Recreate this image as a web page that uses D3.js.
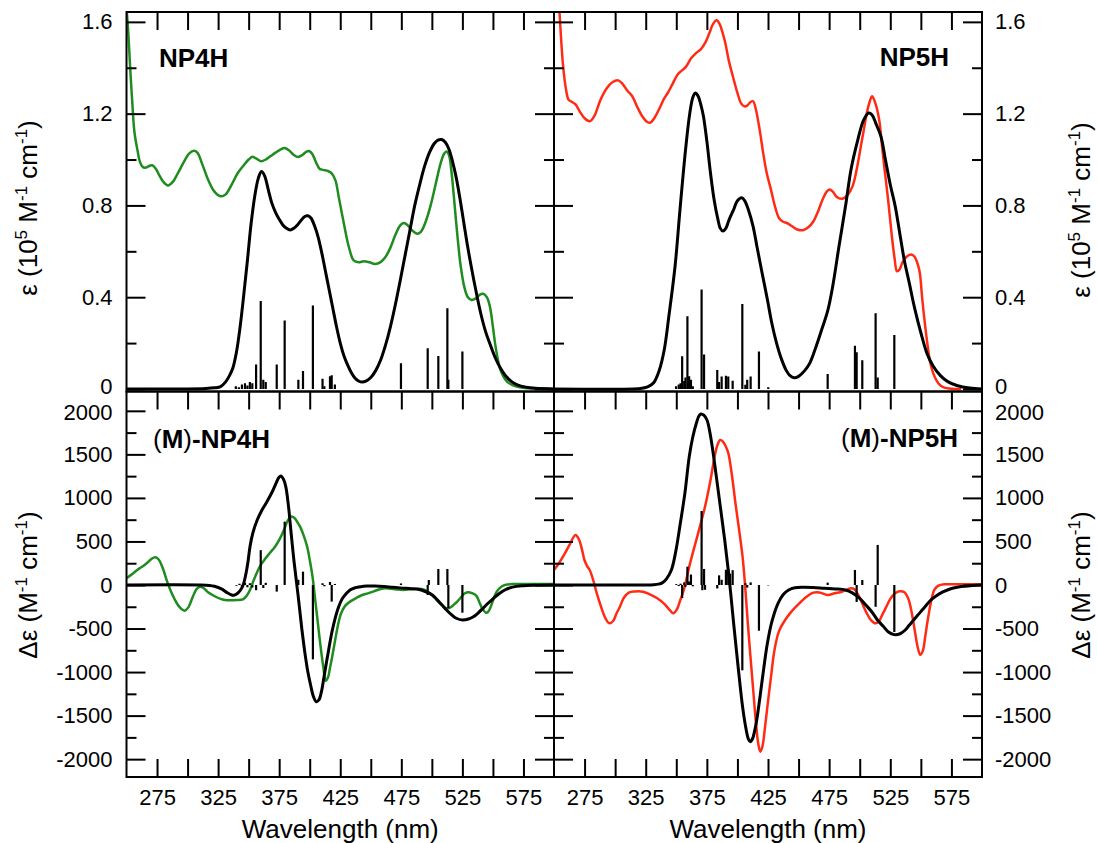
<!DOCTYPE html>
<html>
<head>
<meta charset="utf-8">
<script src="https://cdn.jsdelivr.net/npm/d3@7"></script>
<style>
  body { margin: 0; background: #fff; }
  svg { display: block; }
  text { font-family: "Liberation Sans", Arial, Helvetica, sans-serif; fill: #000; }
</style>
</head>
<body>
<svg id="chart" width="1097" height="843"></svg>
<script>
// ---------- data: wavelength (nm) vs. intensity ----------
// UV-vis absorption, epsilon in 1e5 M^-1 cm^-1
const np4hAbsExp = [
  [250, 1.66], [251.5, 1.55], [253, 1.40], [254.6, 1.26], [256.5, 1.12], [259, 1.04], [261, 0.99],
  [263.4, 0.967], [266, 0.965], [268.5, 0.972], [271, 0.975], [274, 0.96], [277, 0.93], [280.5, 0.90],
  [284, 0.887], [287.5, 0.90], [292, 0.94], [297, 0.99], [301, 1.025], [305, 1.038], [308, 1.03],
  [312, 0.98], [317, 0.91], [322, 0.86], [327, 0.84], [331, 0.847], [336, 0.89], [341, 0.94],
  [346, 0.975], [350, 1.0], [353, 1.012], [356, 1.005], [360, 0.993], [364, 1.0], [368, 1.015],
  [372, 1.03], [376, 1.043], [379.5, 1.05], [383, 1.04], [387, 1.02], [390.5, 1.011], [394, 1.02],
  [397, 1.033], [399.5, 1.037], [402, 1.025], [405, 0.99], [408, 0.96], [411, 0.955], [415, 0.95],
  [418, 0.94], [421, 0.91], [424, 0.83], [428, 0.72], [432, 0.62], [436, 0.56], [440, 0.552],
  [444.5, 0.557], [449, 0.552], [453.5, 0.545], [458, 0.553], [462, 0.575], [466, 0.615], [470, 0.67],
  [474, 0.712], [477, 0.723], [480, 0.715], [484, 0.69], [488, 0.677], [491, 0.685], [495, 0.73],
  [499, 0.80], [503, 0.89], [507, 0.98], [510, 1.025], [512, 1.035], [514, 1.02], [516, 0.95],
  [518, 0.84], [520.7, 0.68], [523.5, 0.54], [526.6, 0.444], [529.5, 0.40], [532.6, 0.388],
  [536, 0.395], [539, 0.41], [542, 0.415], [545, 0.40], [547.5, 0.36], [550, 0.27], [552, 0.19],
  [554, 0.13], [556, 0.085], [558.5, 0.055], [561.5, 0.032], [566, 0.017], [572, 0.007],
  [580, 0.003], [590, 0.001], [600, 0]
];
const np4hAbsCalc = [
  [250, 0], [300, 0], [315, 0.002], [322, 0.005], [327, 0.01], [331, 0.03], [334, 0.055], [337, 0.09],
  [340, 0.16], [343, 0.27], [346, 0.41], [349, 0.56], [352, 0.72], [355, 0.84], [358, 0.92],
  [360.5, 0.948], [363, 0.93], [366, 0.87], [369, 0.81], [372, 0.77], [375, 0.74], [378, 0.715],
  [381, 0.70], [384, 0.693], [387, 0.70], [390, 0.715], [393, 0.735], [396, 0.752], [398.5, 0.755],
  [401, 0.745], [404, 0.71], [407, 0.66], [410, 0.59], [413, 0.51], [416, 0.43], [419, 0.35],
  [422, 0.27], [425, 0.2], [428, 0.145], [431, 0.105], [434, 0.072], [437, 0.048], [440, 0.035],
  [443, 0.03], [446, 0.034], [450, 0.05], [454, 0.08], [458, 0.125], [462, 0.19], [466, 0.27],
  [470, 0.365], [474, 0.47], [478, 0.58], [482, 0.69], [486, 0.8], [490, 0.89], [494, 0.97],
  [498, 1.03], [502, 1.07], [505, 1.085], [508, 1.087], [511, 1.075], [514, 1.045], [517, 0.99],
  [520, 0.92], [523, 0.83], [526, 0.73], [529, 0.63], [532, 0.54], [536, 0.43], [540, 0.33],
  [544, 0.25], [548, 0.19], [552, 0.135], [556, 0.092], [560, 0.06], [565, 0.033], [570, 0.018],
  [577, 0.008], [585, 0.003], [600, 0]
];
const np4hAbsSticks = [
  [339.5, 0.012], [342, 0.008], [344.5, 0.02], [347, 0.025], [349, 0.015], [351, 0.03], [353, 0.025],
  [356.1, 0.107], [359.9, 0.383], [362, 0.04], [364, 0.03], [373, 0.107], [379.5, 0.298],
  [390.7, 0.04], [394.5, 0.078], [402.6, 0.364], [410.5, 0.045], [412, 0.012], [416.6, 0.055],
  [418, 0.06], [420.6, 0.02], [474.7, 0.112], [496.6, 0.177], [505.3, 0.144], [512.7, 0.352],
  [513.5, 0.04], [525, 0.163]
];

const np5hAbsExp = [
  [252, 1.85], [254.5, 1.64], [257.4, 1.41], [260, 1.30], [262, 1.26], [265, 1.25], [267.6, 1.24],
  [271, 1.21], [275, 1.18], [279.2, 1.167], [283, 1.19], [288, 1.26], [293, 1.31], [298, 1.338],
  [302.5, 1.345], [306, 1.33], [310, 1.30], [314, 1.276], [318, 1.23], [322, 1.19], [326, 1.165],
  [328.6, 1.16], [332, 1.18], [336, 1.22], [340, 1.265], [343, 1.29], [347, 1.33], [351, 1.37],
  [355, 1.39], [358, 1.405], [362, 1.44], [366.4, 1.465], [370, 1.48], [373.6, 1.508], [377, 1.55],
  [380, 1.59], [383, 1.607], [385.5, 1.59], [388, 1.55], [390, 1.51], [393, 1.43], [396.9, 1.35],
  [400, 1.29], [403, 1.245], [405.6, 1.232], [408, 1.235], [410.5, 1.25], [412.8, 1.254], [415, 1.22],
  [418.6, 1.116], [421, 1.03], [424, 0.94], [427.4, 0.869], [431, 0.79], [434, 0.745], [437, 0.73],
  [441, 0.722], [444.8, 0.709], [449, 0.695], [453.5, 0.692], [458, 0.705], [462.2, 0.731],
  [466, 0.775], [470, 0.83], [473, 0.86], [475.3, 0.869], [478, 0.86], [481, 0.838], [485.5, 0.829],
  [490, 0.845], [494.2, 0.884], [498, 0.97], [501, 1.06], [502.9, 1.116], [505, 1.18], [507.5, 1.24],
  [510.1, 1.276], [512.5, 1.25], [515.9, 1.174], [518, 1.07], [520.5, 0.95], [523.2, 0.826],
  [526, 0.68], [528.5, 0.57], [530.5, 0.513], [532.5, 0.52], [534.8, 0.55], [538, 0.575],
  [542.1, 0.586], [545, 0.575], [547.9, 0.535], [549.3, 0.50], [551, 0.40], [553.4, 0.28],
  [555.5, 0.19], [557.5, 0.12], [560, 0.07], [563, 0.035], [566, 0.015], [570, 0.005], [578, 0], [583, 0]
];
const np5hAbsCalc = [
  [250, 0], [315, 0], [322, 0.003], [327, 0.01], [331.5, 0.027], [336, 0.08], [340.2, 0.172],
  [344, 0.32], [349, 0.535], [353, 0.78], [357.6, 1.044], [361, 1.2], [363.5, 1.27], [365.5, 1.29],
  [368, 1.275], [370, 1.24], [372.2, 1.189], [375, 1.08], [378, 0.94], [380.9, 0.826], [384, 0.74],
  [386, 0.70], [388.1, 0.688], [390.5, 0.70], [393, 0.735], [396.9, 0.782], [400, 0.82], [403.6, 0.833],
  [406, 0.82], [409, 0.78], [412.8, 0.709], [416, 0.62], [420, 0.51], [424.5, 0.39], [428, 0.29],
  [432, 0.2], [436.1, 0.129], [440, 0.08], [443, 0.058], [446.3, 0.049], [450, 0.055], [455, 0.08],
  [459.3, 0.114], [464, 0.18], [469, 0.26], [473.8, 0.34], [478, 0.45], [483, 0.62], [488.4, 0.797],
  [493, 0.96], [498.5, 1.087], [503, 1.17], [507.3, 1.203], [510, 1.195], [513, 1.16], [517.4, 1.10],
  [521, 1.0], [525, 0.89], [529, 0.797], [533, 0.67], [536.5, 0.56], [540.6, 0.46], [545, 0.35],
  [550, 0.245], [555, 0.155], [560, 0.1], [566, 0.058], [572, 0.032], [580, 0.014], [590, 0.004], [600, 0]
];
const np5hAbsSticks = [
  [349.8, 0.012], [352, 0.02], [353.5, 0.025], [354.8, 0.143], [356.5, 0.035], [357.5, 0.05],
  [359.1, 0.317], [360.5, 0.055], [362, 0.04], [363.5, 0.012], [370.7, 0.434], [372.7, 0.15],
  [383.5, 0.083], [385, 0.03], [387.1, 0.054], [390.6, 0.058], [392.5, 0.054], [396.1, 0.036],
  [404, 0.37], [406.5, 0.018], [408, 0.04], [410.8, 0.054], [417.6, 0.163], [425.2, 0.008],
  [473.8, 0.065], [496.1, 0.188], [497.5, 0.16], [502.1, 0.125], [513, 0.33], [514.7, 0.05], [528.3, 0.235]
];

// Circular dichroism, delta-epsilon in M^-1 cm^-1
const np4hCdExp = [
  [250, 77], [255, 130], [260, 185], [263.4, 215], [267, 255], [270.5, 300], [273.6, 318], [276.5, 290],
  [279.5, 200], [283.8, 19], [287.5, -110], [291.2, -210], [294.5, -270], [297.6, -295], [300.5, -260],
  [304.3, -134], [307.5, -45], [310.2, -19], [313.5, -40], [316.5, -80], [319, -103], [323, -135],
  [327, -160], [330.6, -172], [335, -175], [340, -172], [345.3, -165], [348.5, -120], [351.1, -57],
  [354, 50], [357, 150], [359.9, 230], [363.5, 300], [367.5, 370], [371.6, 440], [375.5, 530],
  [378.9, 632], [382, 740], [384.8, 785], [387.5, 770], [390, 720], [392.1, 670], [395, 570],
  [397.9, 440], [400, 290], [402.3, 96], [404.5, -170], [406.7, -440], [409, -720], [411.1, -938],
  [413.1, -1100], [415, -1060], [416.5, -960], [418.4, -823], [421, -620], [423, -470], [425.7, -325],
  [429, -240], [433, -191], [438, -150], [443, -115], [447.6, -96], [453, -70], [458, -45],
  [462.3, -38], [468, -45], [472, -52], [476.9, -57], [482, -50], [486, -45], [491.5, -46], [496, -70],
  [500.3, -115], [504, -170], [508, -230], [511, -262], [513.5, -268], [516, -250], [518.5, -220],
  [520.8, -191], [524, -140], [527, -95], [530, -82], [533, -95], [536.5, -125], [539, -200],
  [541.5, -275], [544.5, -320], [546.5, -300], [548.5, -240], [550.5, -160], [553, -80], [556, -30],
  [558.9, -5], [562, 5], [566, 10], [570.6, 11], [580, 12], [590, 12], [600, 11]
];
const np4hCdCalc = [
  [250, 0], [310, 0], [318, -5], [322, -15], [327.7, -45], [332, -85], [335, -108], [338, -118],
  [341, -95], [343.5, -55], [345.5, 0], [347.5, 110], [349.5, 270], [351.1, 440], [353.5, 600],
  [357, 746], [360.5, 850], [364.2, 938], [368.7, 1053], [372.5, 1170], [375, 1240], [376.5, 1252],
  [378.5, 1215], [380.4, 1129], [382.5, 920], [384.8, 593], [387, 290], [390.6, -134], [393.5, -500],
  [396.5, -823], [398.5, -1000], [400.9, -1160], [403, -1280], [405.3, -1340], [407.5, -1320],
  [409.6, -1225], [412, -1030], [415.5, -746], [418.5, -520], [422.8, -287], [427, -150], [433, -57],
  [437.5, -30], [441.8, -19], [447, -13], [453.5, -11], [461, -17], [468.1, -27], [476, -36],
  [483, -42], [488.6, -50], [494, -72], [500.3, -115], [504, -165], [508, -225], [512, -287],
  [516, -340], [520, -382], [525.1, -402], [530, -390], [534, -365], [538, -320], [542, -265],
  [546, -210], [550, -160], [555, -100], [560.5, -52], [566, -25], [573.6, -10], [585, -3], [600, 0]
];
const np4hCdSticks = [
  [340, -10], [342.5, 15], [344.5, -20], [347, 25], [349, -25], [351, 20], [353, -30], [356.1, -60],
  [359.9, 400], [362, -35], [364, 25], [373, -76], [379.5, 727], [390.7, 60], [394.5, 153],
  [402.6, -854], [410.5, 20], [412, -15], [416.6, 35], [418, -191], [420.6, 12], [474.7, 18],
  [496.6, -115], [497.5, 57], [505.3, 184], [512.7, 184], [513.5, -268], [525, -318]
];

const np5hCdExp = [
  [250, 172], [254, 250], [258.9, 364], [263, 470], [267.6, 574], [270.5, 520], [273, 400],
  [274.9, 287], [277, 220], [279.2, 172], [282, 60], [285, -96], [288.5, -250], [292, -380],
  [295.2, -440], [298.5, -410], [301, -330], [303.9, -249], [307, -150], [311.2, -88], [316, -75],
  [322.8, -77], [328, -105], [334.4, -153], [340, -215], [344.5, -285], [347.5, -325], [350.5, -280],
  [353.3, -172], [356.5, -40], [360.6, 211], [364.5, 420], [369.3, 670], [373.5, 900], [378, 1206],
  [381, 1450], [383.5, 1600], [385.9, 1665], [388, 1650], [390.5, 1590], [392.6, 1512], [395.5, 1260],
  [398.4, 938], [401.5, 620], [404.2, 325], [406.5, -50], [408.5, -440], [410.7, -830], [412.9, -1206],
  [415, -1560], [417, -1820], [418.7, -1914], [420.5, -1850], [422.5, -1640], [424.5, -1397],
  [427.5, -1050], [430.3, -746], [434, -530], [439, -402], [444.5, -300], [450.6, -211], [456, -140],
  [462.2, -88], [467, -85], [473.8, -115], [479.5, -95], [485.4, -77], [490, -50], [493, -38],
  [495.6, -50], [499, -120], [502, -210], [505.8, -325], [509, -400], [513.1, -440], [516, -410],
  [518.5, -340], [521.8, -249], [525, -160], [529, -96], [532.5, -72], [536.3, -80], [539.5, -150],
  [542.1, -287], [545, -520], [547.5, -720], [549.4, -800], [551.5, -760], [553.5, -600],
  [555.2, -440], [557.5, -250], [559.5, -120], [561, -57], [564, -10], [569.7, 8], [580, 8], [590, 8], [600, 8]
];
const np5hCdCalc = [
  [250, 0], [322, 0], [331.6, 3], [335.5, 10], [338.8, 27], [342, 70], [346, 172], [349.5, 380],
  [353.3, 708], [357, 1050], [360.6, 1474], [363.5, 1700], [366.4, 1857], [368.5, 1940], [370.2, 1964],
  [372.5, 1950], [375.1, 1895], [378, 1710], [382.4, 1282], [386, 900], [389.6, 517], [393.5, 40],
  [396.9, -440], [400.5, -930], [404.2, -1397], [407, -1650], [409, -1770], [410.5, -1800],
  [412.5, -1760], [414, -1680], [415.8, -1550], [418.5, -1280], [421.5, -960], [424.5, -670],
  [428, -430], [433.2, -211], [437.5, -110], [441.9, -57], [447, -32], [453.5, -27], [462, -30],
  [471, -38], [480, -45], [488.4, -57], [494, -90], [500, -153], [505, -230], [510, -310],
  [514.5, -402], [519, -470], [523.5, -540], [528.2, -570], [533, -560], [537, -520], [540.6, -460],
  [546, -370], [552.2, -270], [558, -175], [563, -120], [568, -80], [575, -40], [583, -17],
  [592, -6], [600, 0]
];
const np5hCdSticks = [
  [350, 10], [352, -12], [353.5, 15], [354.8, -150], [356.5, 30], [357.5, -20], [359.1, 210],
  [360.5, 40], [362, 120], [363.5, -15], [370.7, 850], [371.3, -60], [372.7, 184], [373.5, -55],
  [383.5, -40], [385, 111], [387.1, 60], [390.6, 175], [392.5, 180], [394, 130], [396.1, 170],
  [404, -980], [406.5, 20], [408, -30], [410.8, 30], [417.6, -525], [425.2, -5], [473.8, 27],
  [496.1, 172], [497.5, -195], [502.1, 57], [513, -250], [514.7, 460], [528.3, -540]
];

// ---------- axis ticks ----------
const waveTicks = [275, 300, 325, 350, 375, 400, 425, 450, 475, 500, 525, 550, 575];
const waveLabels = [275, 325, 375, 425, 475, 525, 575];
const absMajor = [0, 0.4, 0.8, 1.2, 1.6];
const absMinor = [0.2, 0.6, 1.0, 1.4];
const cdMajor = [-2000, -1500, -1000, -500, 0, 500, 1000, 1500, 2000];
const cdMinor = [-1750, -1250, -750, -250, 250, 750, 1250, 1750];

// ---------- layout ----------
const X0 = 126.5, XM = 554, X1 = 982;
const Y0 = 12, YM = 391.5, Y1 = 777;
const GREEN = "#1e8c1e", RED = "#ff2b14";
const TICK_FONT = 22, TITLE_FONT = 26, LABEL_FONT = 26;

const svg = d3.select("#chart");

const panels = [
  { x0: X0, x1: XM, y0: Y0, y1: YM, kind: "abs", side: "left",
    exp: np4hAbsExp, calc: np4hAbsCalc, sticks: np4hAbsSticks, color: GREEN },
  { x0: XM, x1: X1, y0: Y0, y1: YM, kind: "abs", side: "right",
    exp: np5hAbsExp, calc: np5hAbsCalc, sticks: np5hAbsSticks, color: RED },
  { x0: X0, x1: XM, y0: YM, y1: Y1, kind: "cd", side: "left",
    exp: np4hCdExp, calc: np4hCdCalc, sticks: np4hCdSticks, color: GREEN },
  { x0: XM, x1: X1, y0: YM, y1: Y1, kind: "cd", side: "right",
    exp: np5hCdExp, calc: np5hCdCalc, sticks: np5hCdSticks, color: RED }
];

function styleAxis(g) {
  g.select(".domain").remove();
  g.attr("font-family", null).attr("font-size", null);
  g.selectAll(".tick line").attr("stroke", "#000").attr("stroke-width", 2);
  g.selectAll(".tick text").style("font-size", TICK_FONT + "px");
}

const absFmt = d => d === 0 ? "0" : d3.format(".1f")(d);
const cdFmt = d => String(d);

// the "0" of the upper panels and the "2000" of the lower panels sit at the
// shared border, so they are nudged a little apart
function separateBorderLabels(g, kind) {
  g.selectAll(".tick text")
    .filter(d => (kind === "abs" && d === 0) || (kind === "cd" && d === 2000))
    .attr("y", kind === "abs" ? -2.5 : 2);
}

panels.forEach((p, i) => {
  const x = d3.scaleLinear().domain([250, 600]).range([p.x0, p.x1]);
  const y = p.kind === "abs"
    ? d3.scaleLinear().domain([-0.011, 1.643]).range([p.y1, p.y0])
    : d3.scaleLinear().domain([-2205, 2222]).range([p.y1, p.y0]);

  const clipId = "clip-" + i;
  svg.append("clipPath").attr("id", clipId)
    .append("rect")
    .attr("x", p.x0).attr("y", p.y0)
    .attr("width", p.x1 - p.x0).attr("height", p.y1 - p.y0);

  const plot = svg.append("g").attr("clip-path", `url(#${clipId})`);
  const line = d3.line()
    .x(d => x(d[0])).y(d => y(d[1]))
    .curve(d3.curveCatmullRom.alpha(0.5));

  plot.append("path").datum(p.exp)
    .attr("d", line).attr("fill", "none")
    .attr("stroke", p.color).attr("stroke-width", 2.5)
    .attr("stroke-linejoin", "round");

  plot.append("path").datum(p.calc)
    .attr("d", line).attr("fill", "none")
    .attr("stroke", "#000").attr("stroke-width", 3)
    .attr("stroke-linejoin", "round");

  plot.selectAll("line.stick").data(p.sticks).join("line")
    .attr("class", "stick")
    .attr("x1", d => x(d[0])).attr("x2", d => x(d[0]))
    .attr("y1", y(0)).attr("y2", d => y(d[1]))
    .attr("stroke", "#000").attr("stroke-width", 2.2);

  // x axes: ticks every 25 nm, pointing inward
  const topAx = svg.append("g").attr("transform", `translate(0,${p.y0})`)
    .call(d3.axisTop(x).tickValues(waveTicks).tickSize(-18).tickFormat(""));
  styleAxis(topAx);
  if (p.kind === "cd") {
    const botAx = svg.append("g").attr("transform", `translate(0,${p.y1})`)
      .call(d3.axisBottom(x).tickValues(waveTicks).tickSize(-18).tickPadding(12)
        .tickFormat(d => waveLabels.includes(d) ? d : ""));
    styleAxis(botAx);
  }

  // y axes: labelled ticks on the outer side, plain ticks on the inner side
  const major = p.kind === "abs" ? absMajor : cdMajor;
  const minor = p.kind === "abs" ? absMinor : cdMinor;
  const fmt = p.kind === "abs" ? absFmt : cdFmt;

  const leftMaj = svg.append("g").attr("transform", `translate(${p.x0},0)`)
    .call(d3.axisLeft(y).tickValues(major).tickSize(-19).tickPadding(14)
      .tickFormat(p.side === "left" ? fmt : ""));
  styleAxis(leftMaj);
  const leftMin = svg.append("g").attr("transform", `translate(${p.x0},0)`)
    .call(d3.axisLeft(y).tickValues(minor).tickSize(-10).tickFormat(""));
  styleAxis(leftMin);

  const rightMaj = svg.append("g").attr("transform", `translate(${p.x1},0)`)
    .call(d3.axisRight(y).tickValues(major).tickSize(-19).tickPadding(13)
      .tickFormat(p.side === "right" ? fmt : ""));
  styleAxis(rightMaj);
  const rightMin = svg.append("g").attr("transform", `translate(${p.x1},0)`)
    .call(d3.axisRight(y).tickValues(minor).tickSize(-10).tickFormat(""));
  styleAxis(rightMin);

  separateBorderLabels(p.side === "left" ? leftMaj : rightMaj, p.kind);

  // frame
  svg.append("rect")
    .attr("x", p.x0).attr("y", p.y0)
    .attr("width", p.x1 - p.x0).attr("height", p.y1 - p.y0)
    .attr("fill", "none").attr("stroke", "#000").attr("stroke-width", 2);
});

// ---------- panel labels ----------
svg.append("text").attr("x", 159).attr("y", 67)
  .style("font-size", LABEL_FONT + "px").style("font-weight", "bold").text("NP4H");
svg.append("text").attr("x", 949).attr("y", 66).attr("text-anchor", "end")
  .style("font-size", LABEL_FONT + "px").style("font-weight", "bold").text("NP5H");

function cdLabel(xPos, yPos, anchor, name) {
  const t = svg.append("text").attr("x", xPos).attr("y", yPos)
    .attr("text-anchor", anchor).style("font-size", LABEL_FONT + "px");
  t.append("tspan").text("(");
  t.append("tspan").style("font-weight", "bold").text("M");
  t.append("tspan").text(")");
  t.append("tspan").style("font-weight", "bold").text("-" + name);
}
cdLabel(153, 448, "start", "NP4H");
cdLabel(958, 447, "end", "NP5H");

// ---------- axis titles ----------
[(X0 + XM) / 2, (XM + X1) / 2].forEach(cx => {
  svg.append("text").attr("x", cx).attr("y", 838).attr("text-anchor", "middle")
    .style("font-size", TITLE_FONT + "px").text("Wavelength (nm)");
});

function yTitle(cx, cy, withScale, delta) {
  const t = svg.append("text")
    .attr("transform", `translate(${cx},${cy}) rotate(-90)`)
    .attr("text-anchor", "middle").style("font-size", TITLE_FONT + "px");
  const sup = (s) => {
    t.append("tspan").attr("dy", -10).style("font-size", "17px").text(s);
  };
  t.append("tspan").text((delta ? "\u0394\u03b5" : "\u03b5") + (withScale ? " (10" : " (M"));
  if (withScale) {
    sup("5");
    t.append("tspan").attr("dy", 10).text(" M");
  }
  sup("-1");
  t.append("tspan").attr("dy", 10).text(" cm");
  sup("-1");
  t.append("tspan").attr("dy", 10).text(")");
}
yTitle(37, 208, true, false);
yTitle(1090, 210, true, false);
yTitle(37, 585, false, true);
yTitle(1090, 585, false, true);
</script>
</body>
</html>
